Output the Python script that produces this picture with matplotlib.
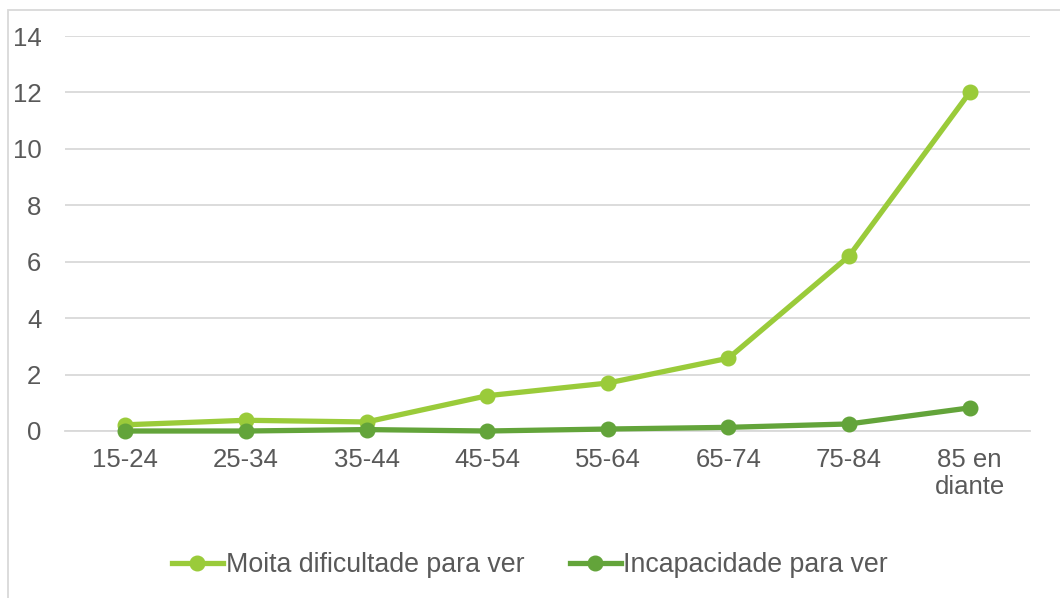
import matplotlib
matplotlib.use("Agg")
import matplotlib.pyplot as plt
from matplotlib.patches import Rectangle

categorias = ["15-24", "25-34", "35-44", "45-54", "55-64", "65-74", "75-84", "85 en\ndiante"]
moita_dificultade = [0.22, 0.38, 0.32, 1.25, 1.7, 2.58, 6.2, 12.0]
incapacidade = [0.0, 0.0, 0.05, 0.0, 0.07, 0.13, 0.25, 0.82]
yticks = [0, 2, 4, 6, 8, 10, 12, 14]

plt.rcParams['font.family'] = ['Liberation Sans', 'DejaVu Sans']
texto = "#595959"

fig = plt.figure(figsize=(10.6, 5.98), dpi=100)
ax = fig.add_axes([65/1060, 1 - 431/598, (1030-65)/1060, (431-36)/598])

x = range(len(categorias))
ax.plot(x, moita_dificultade, color="#9ACB3A", lw=3.8, marker="o", ms=10.5,
        label="Moita dificultade para ver", zorder=3)
ax.plot(x, incapacidade, color="#63A43A", lw=3.8, marker="o", ms=10.5,
        label="Incapacidade para ver", zorder=4)

ax.set_xlim(-0.5, 7.5)
ax.set_ylim(0, 14)
ax.set_yticks(yticks)
ax.set_xticks(list(x))
ax.set_xticklabels(categorias, linespacing=1.15)
ax.grid(axis="y", color="#D9D9D9", lw=1.3)
ax.set_axisbelow(True)
for s in ["top", "right", "left"]:
    ax.spines[s].set_visible(False)
ax.spines["bottom"].set_color("#D9D9D9")
ax.spines["bottom"].set_linewidth(1.3)
ax.tick_params(axis="both", length=0, labelsize=18.5, colors=texto)
ax.tick_params(axis="x", pad=12)
ax.tick_params(axis="y", pad=17)
for l in ax.lines:
    l.set_clip_on(False)

leg = fig.legend(loc="center", bbox_to_anchor=(0.5, 1 - 565/598), ncol=2, frameon=False,
                 fontsize=19.3, handlelength=1.9, handletextpad=0.1, columnspacing=1.7)
for t in leg.get_texts():
    t.set_color(texto)

fig.patches.append(Rectangle((8/1060, -0.05), 1.1, 1 - 10/598 + 0.05, transform=fig.transFigure,
                             fill=False, edgecolor="#D9D9D9", lw=1.3))

fig.savefig("out.png", dpi=100)
